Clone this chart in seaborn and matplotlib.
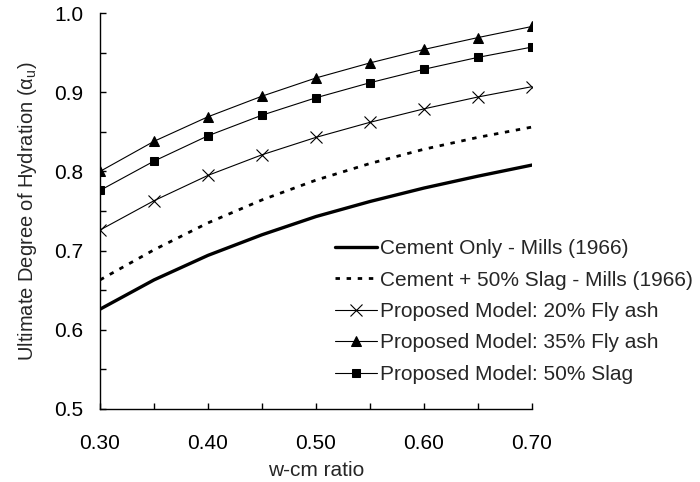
import matplotlib
matplotlib.use("Agg")
import matplotlib.pyplot as plt
import seaborn as sns
import pandas as pd
from matplotlib.ticker import MultipleLocator

wcm = [0.30, 0.35, 0.40, 0.45, 0.50, 0.55, 0.60, 0.65, 0.70]
cement_only = [0.626, 0.663, 0.694, 0.720, 0.743, 0.762, 0.779, 0.794, 0.808]
cement_slag = [0.663, 0.701, 0.735, 0.764, 0.789, 0.810, 0.828, 0.843, 0.856]
fly_ash_20 = [0.726, 0.763, 0.795, 0.821, 0.843, 0.862, 0.879, 0.894, 0.907]
fly_ash_35 = [0.800, 0.838, 0.869, 0.895, 0.918, 0.937, 0.954, 0.969, 0.983]
slag_50 = [0.776, 0.813, 0.845, 0.871, 0.893, 0.912, 0.929, 0.944, 0.957]

labels = ["Cement Only - Mills (1966)",
          "Cement + 50% Slag - Mills (1966)",
          "Proposed Model: 20% Fly ash",
          "Proposed Model: 35% Fly ash",
          "Proposed Model: 50% Slag"]

sns.set_style("ticks")
plt.rcParams['font.family'] = ['Liberation Sans', 'DejaVu Sans']
plt.rcParams['mathtext.fontset'] = 'custom'
plt.rcParams['mathtext.rm'] = 'Liberation Sans'
plt.rcParams['mathtext.it'] = 'Liberation Sans:italic'

FS = 15

fig = plt.figure(figsize=(7, 4.82), dpi=100)
ax = fig.add_axes([0.1429, 0.1515, 0.6171, 0.8215])

sns.lineplot(x=wcm, y=cement_only, ax=ax, color='black', lw=2.4, label=labels[0])
sns.lineplot(x=wcm, y=cement_slag, ax=ax, color='black', lw=2.0,
             linestyle=(0, (1.6, 2.4)), label=labels[1])
sns.lineplot(x=wcm, y=fly_ash_20, ax=ax, color='black', lw=0.8, marker='x',
             markersize=9, markeredgewidth=0.8, markeredgecolor='black',
             label=labels[2])
sns.lineplot(x=wcm, y=fly_ash_35, ax=ax, color='black', lw=0.8, marker='^',
             markersize=6.5, markeredgecolor='black', label=labels[3])
sns.lineplot(x=wcm, y=slag_50, ax=ax, color='black', lw=0.8, marker='s',
             markersize=5.5, markeredgecolor='black', label=labels[4])

ax.set_xlim(0.30, 0.70)
ax.set_ylim(0.5, 1.0)
ax.xaxis.set_major_locator(MultipleLocator(0.1))
ax.xaxis.set_minor_locator(MultipleLocator(0.05))
ax.yaxis.set_major_locator(MultipleLocator(0.1))
ax.yaxis.set_minor_locator(MultipleLocator(0.05))
ax.xaxis.set_major_formatter(matplotlib.ticker.FormatStrFormatter('%.2f'))
ax.yaxis.set_major_formatter(matplotlib.ticker.FormatStrFormatter('%.1f'))
ax.tick_params(which='both', direction='in', length=4, width=1, colors='black',
               labelsize=FS)
ax.tick_params(axis='x', which='major', pad=18)
ax.tick_params(axis='y', which='major', pad=12)
for s in ['top', 'right']:
    ax.spines[s].set_visible(False)
for s in ['left', 'bottom']:
    ax.spines[s].set_linewidth(1)
    ax.spines[s].set_color('black')

ax.set_xlabel("w-cm ratio", fontsize=FS, labelpad=6)
ax.set_ylabel(r"Ultimate Degree of Hydration (α$_\mathregular{u}$)", fontsize=14.5,
              labelpad=11)

leg = ax.legend(loc='upper left', bbox_to_anchor=(335 / 700, 1 - 239 / 482),
                bbox_transform=fig.transFigure, frameon=False, fontsize=FS,
                borderpad=0, borderaxespad=0, handlelength=2.0,
                handletextpad=0.15, labelspacing=0.6)

fig.savefig("out.png", dpi=100)
